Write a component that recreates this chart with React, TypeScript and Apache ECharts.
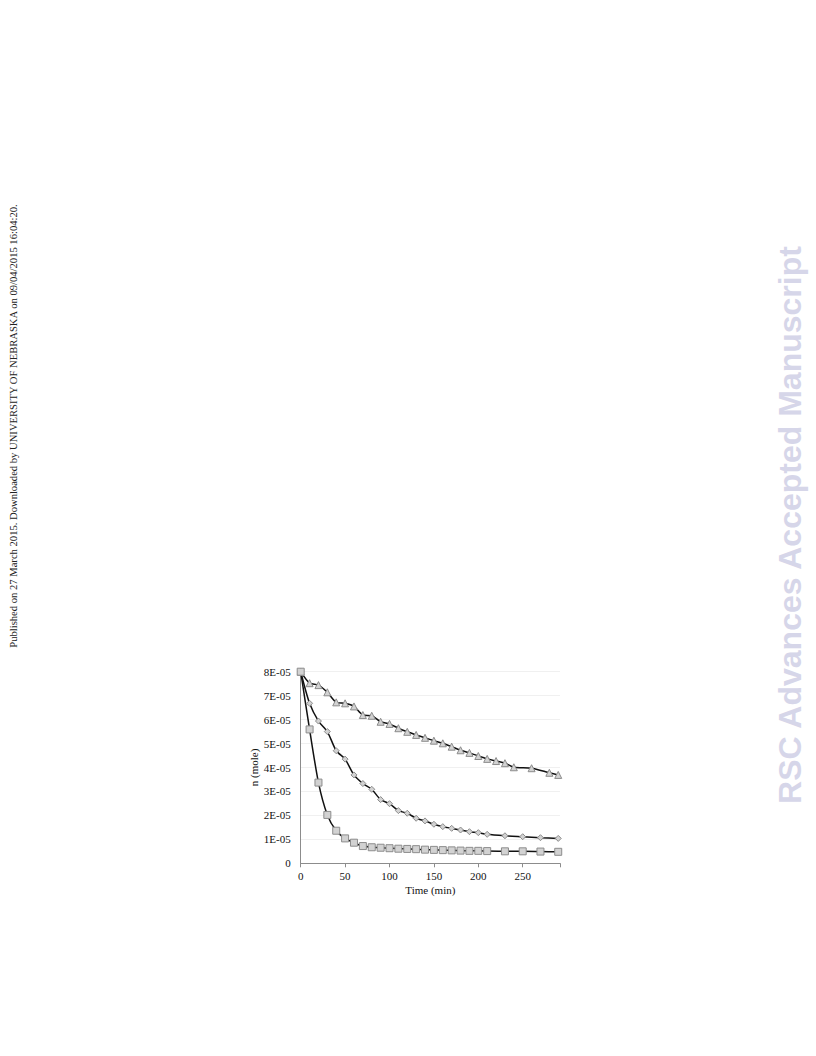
import React, { useEffect, useRef } from "react";
import * as echarts from "echarts";

// Sampling times (min)
const timesTriangle = [0, 10, 20, 30, 40, 50, 60, 70, 80, 90, 100, 110, 120, 130, 140, 150, 160, 170, 180, 190, 200, 210, 220, 230, 240, 260, 280, 290];
const timesOther = [0, 10, 20, 30, 40, 50, 60, 70, 80, 90, 100, 110, 120, 130, 140, 150, 160, 170, 180, 190, 200, 210, 230, 250, 270, 290];

// Amount remaining, n (mole)
const nTriangle = [8.0e-5, 7.52e-5, 7.44e-5, 7.14e-5, 6.72e-5, 6.68e-5, 6.55e-5, 6.19e-5, 6.16e-5, 5.91e-5, 5.82e-5, 5.64e-5, 5.49e-5, 5.36e-5, 5.24e-5, 5.12e-5, 5.01e-5, 4.87e-5, 4.72e-5, 4.61e-5, 4.48e-5, 4.36e-5, 4.27e-5, 4.18e-5, 4.01e-5, 3.97e-5, 3.78e-5, 3.69e-5];
const nDiamond = [8.0e-5, 6.68e-5, 5.94e-5, 5.5e-5, 4.7e-5, 4.35e-5, 3.69e-5, 3.33e-5, 3.09e-5, 2.66e-5, 2.49e-5, 2.2e-5, 2.09e-5, 1.88e-5, 1.77e-5, 1.63e-5, 1.53e-5, 1.46e-5, 1.39e-5, 1.32e-5, 1.28e-5, 1.21e-5, 1.15e-5, 1.11e-5, 1.07e-5, 1.04e-5];
const nSquare = [8.0e-5, 5.59e-5, 3.37e-5, 2.02e-5, 1.36e-5, 1.04e-5, 0.86e-5, 0.72e-5, 0.67e-5, 0.65e-5, 0.63e-5, 0.61e-5, 0.6e-5, 0.59e-5, 0.57e-5, 0.56e-5, 0.55e-5, 0.54e-5, 0.53e-5, 0.52e-5, 0.52e-5, 0.51e-5, 0.5e-5, 0.5e-5, 0.49e-5, 0.48e-5];

const xTicks = [0, 50, 100, 150, 200, 250];

const pairs = (t: number[], v: number[]) => t.map((x, i) => [x, v[i]]);

const serif = "'Liberation Serif', 'Times New Roman', serif";

export default function App() {
  const ref = useRef<HTMLDivElement>(null);

  useEffect(() => {
    if (!ref.current) return;
    const chart = echarts.init(ref.current, null, { renderer: "svg" });

    const markerStyle = { color: "#d2d2d2", borderColor: "#8c8c8c", borderWidth: 1 };
    const lineStyle = { color: "#111", width: 1.5 };

    const mk = (name: string, t: number[], v: number[], symbol: string, size: number) => ({
      name,
      type: "line",
      data: pairs(t, v),
      smooth: 0.25,
      symbol,
      symbolSize: size,
      showSymbol: true,
      lineStyle,
      itemStyle: markerStyle,
      z: 3,
    });

    chart.setOption({
      animation: false,
      backgroundColor: "#fff",
      grid: { left: 300.7, right: 256, top: 671.7, bottom: 192.7, containLabel: false },
      xAxis: {
        type: "value",
        min: 0,
        max: 292,
        interval: 50,
        name: "Time (min)",
        nameLocation: "middle",
        nameGap: 21,
        nameTextStyle: { fontFamily: serif, fontSize: 11, color: "#111" },
        axisLine: { show: true, lineStyle: { color: "#8c8c8c", width: 1 } },
        axisTick: { show: true, length: 4, lineStyle: { color: "#8c8c8c" } },
        axisLabel: {
          fontFamily: serif,
          fontSize: 11,
          color: "#111",
          margin: 7,
          formatter: (v: number) => (xTicks.includes(v) ? String(v) : ""),
        },
        splitLine: { show: false },
      },
      yAxis: {
        type: "value",
        min: 0,
        max: 8e-5,
        interval: 1e-5,
        name: "n (mole)",
        nameLocation: "middle",
        nameRotate: 90,
        nameGap: 39,
        nameTextStyle: { fontFamily: serif, fontSize: 11, color: "#111" },
        axisLine: { show: true, lineStyle: { color: "#8c8c8c", width: 1 } },
        axisTick: { show: false },
        axisLabel: {
          fontFamily: serif,
          fontSize: 11,
          color: "#111",
          margin: 10,
          formatter: (v: number) => {
            const k = Math.round(v * 1e5);
            return k === 0 ? "0" : `${k}E-05`;
          },
        },
        splitLine: { show: true, lineStyle: { color: "#f0f0f0", width: 1 } },
      },
      series: [
        mk("triangle", timesTriangle, nTriangle, "triangle", 7),
        mk("diamond", timesOther, nDiamond, "diamond", 6),
        mk("square", timesOther, nSquare, "rect", 7),
      ],
      graphic: [
        {
          type: "text",
          x: 13,
          y: 426,
          rotation: Math.PI / 2,
          style: {
            text: "Published on 27 March 2015. Downloaded by UNIVERSITY OF NEBRASKA on 09/04/2015 16:04:20.",
            font: `10.6px ${serif}`,
            fill: "#222",
            textAlign: "center",
            textVerticalAlign: "middle",
          },
        },
        {
          type: "text",
          x: 790,
          y: 525,
          rotation: Math.PI / 2,
          style: {
            text: "RSC Advances Accepted Manuscript",
            font: "bold 32px 'Liberation Sans', Arial, sans-serif",
            fill: "#d6d6e9",
            textAlign: "center",
            textVerticalAlign: "middle",
          },
        },
      ],
    });

    return () => chart.dispose();
  }, []);

  return (
    <div
      ref={ref}
      style={{ position: "absolute", left: 0, top: 0, width: 816, height: 1056 }}
    />
  );
}
